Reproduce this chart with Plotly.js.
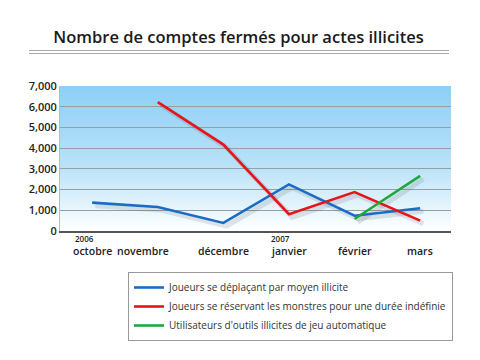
<!DOCTYPE html>
<html><head><meta charset="utf-8">
<script src="https://cdn.plot.ly/plotly-3.0.1.min.js"></script>
<style>body{margin:0;background:#fff}#c{width:480px;height:360px}</style>
</head><body><div id="c"></div>
<script>
const months = ["octobre","novembre","décembre","janvier","février","mars"];
const years = ["2006","","","2007","",""];
const blueVals = [1370, 1160, 390, 2250, 740, 1100];
const redVals = [null, 6220, 4170, 810, 1880, 500];
const greenVals = [null, null, null, null, 580, 2660];
const seriesNames = [
  "Joueurs se déplaçant par moyen illicite",
  "Joueurs se réservant les monstres pour une durée indéfinie",
  "Utilisateurs d'outils illicites de jeu automatique"
];
const colors = ["#1a6cc6", "#e8141c", "#1fa83c"];
const yTicks = [0,1000,2000,3000,4000,5000,6000,7000];

const idx = months.map((m,i)=>i);
const series = [blueVals, redVals, greenVals];
const traces = [];
// soft shadows derived from the data, offset a few pixels
series.forEach((v,k)=>{
  traces.push({x: idx.map(i=>i+0.05), y: v.map(d=>d==null?null:d-150), mode:'lines',
    line:{color:'rgba(60,60,60,0.13)', width:5}, showlegend:false, hoverinfo:'skip'});
});
series.forEach((v,k)=>{
  traces.push({x: idx, y: v, mode:'lines', name: seriesNames[k],
    line:{color: colors[k], width:2.6}});
});

const F = 'Open Sans, Noto Sans, sans-serif';
const annotations = [];
const shifts = [0,-15,0,0,0,0];
months.forEach((m,i)=>{
  annotations.push({x:i, xref:'x', y:-0.14, yref:'paper', text:m, showarrow:false,
    xshift: shifts[i], font:{family:F, size:10.5, color:'#222', weight:600}, xanchor:'center', yanchor:'middle'});
  if (years[i]) annotations.push({x:i, xref:'x', y:-0.05, yref:'paper', text:years[i], showarrow:false,
    xshift:-8, font:{family:F, size:8, color:'#222', weight:600}, xanchor:'center', yanchor:'middle'});
});

const svg = "<svg xmlns='http://www.w3.org/2000/svg' width='10' height='100' preserveAspectRatio='none'><defs><linearGradient id='g' x1='0' y1='0' x2='0' y2='1'><stop offset='0' stop-color='#8dcff5'/><stop offset='0.55' stop-color='#b9e2f8'/><stop offset='1' stop-color='#ffffff'/></linearGradient></defs><rect width='10' height='100' fill='url(#g)'/></svg>";
const img = "data:image/svg+xml;base64," + btoa(svg);

const layout = {
  width:480, height:360,
  margin:{l:60, r:29, t:86, b:129},
  paper_bgcolor:'#fff', plot_bgcolor:'rgba(0,0,0,0)',
  title:{text:'Nombre de comptes fermés pour actes illicites', x:0.497, xanchor:'center', y:0.897, yanchor:'middle',
    font:{family:F, size:16.5, color:'#1a1a1a', weight:600}},
  xaxis:{range:[-0.49,5.47], showgrid:false, zeroline:false, showticklabels:false, ticks:'',
    showline:true, linecolor:'#555', linewidth:1.5, fixedrange:true},
  yaxis:{range:[0,7000], tickvals:yTicks, ticktext:yTicks.map(v=>v.toLocaleString('en-US')),
    showgrid:true, gridcolor:'#979fa6', gridwidth:1, zeroline:false,
    showline:true, linecolor:'#bbb', linewidth:1, ticks:'', ticklen:0,
    tickfont:{family:F, size:11, color:'#222', weight:600}, fixedrange:true},
  images:[{source:img, xref:'paper', yref:'paper', x:0, y:1, sizex:1, sizey:1, sizing:'stretch', layer:'below', xanchor:'left', yanchor:'top'}],
  shapes:[
    {type:'line', xref:'paper', yref:'paper', x0:-31/391, x1:389/391, y0:(231-50.5)/145, y1:(231-50.5)/145, line:{color:'#aaa', width:1}},
    {type:'line', xref:'paper', yref:'paper', x0:-31/391, x1:389/391, y0:(231-53.5)/145, y1:(231-53.5)/145, line:{color:'#aaa', width:1}}
  ],
  annotations: annotations,
  legend:{x:68/391, y:-41/145, xanchor:'left', yanchor:'top', bgcolor:'#fff', bordercolor:'#999', borderwidth:1,
    font:{family:F, size:10, color:'#333'}, tracegroupgap:0, itemwidth:30},
  showlegend:true
};
Plotly.newPlot('c', traces, layout, {displayModeBar:false, staticPlot:true});
</script></body></html>
